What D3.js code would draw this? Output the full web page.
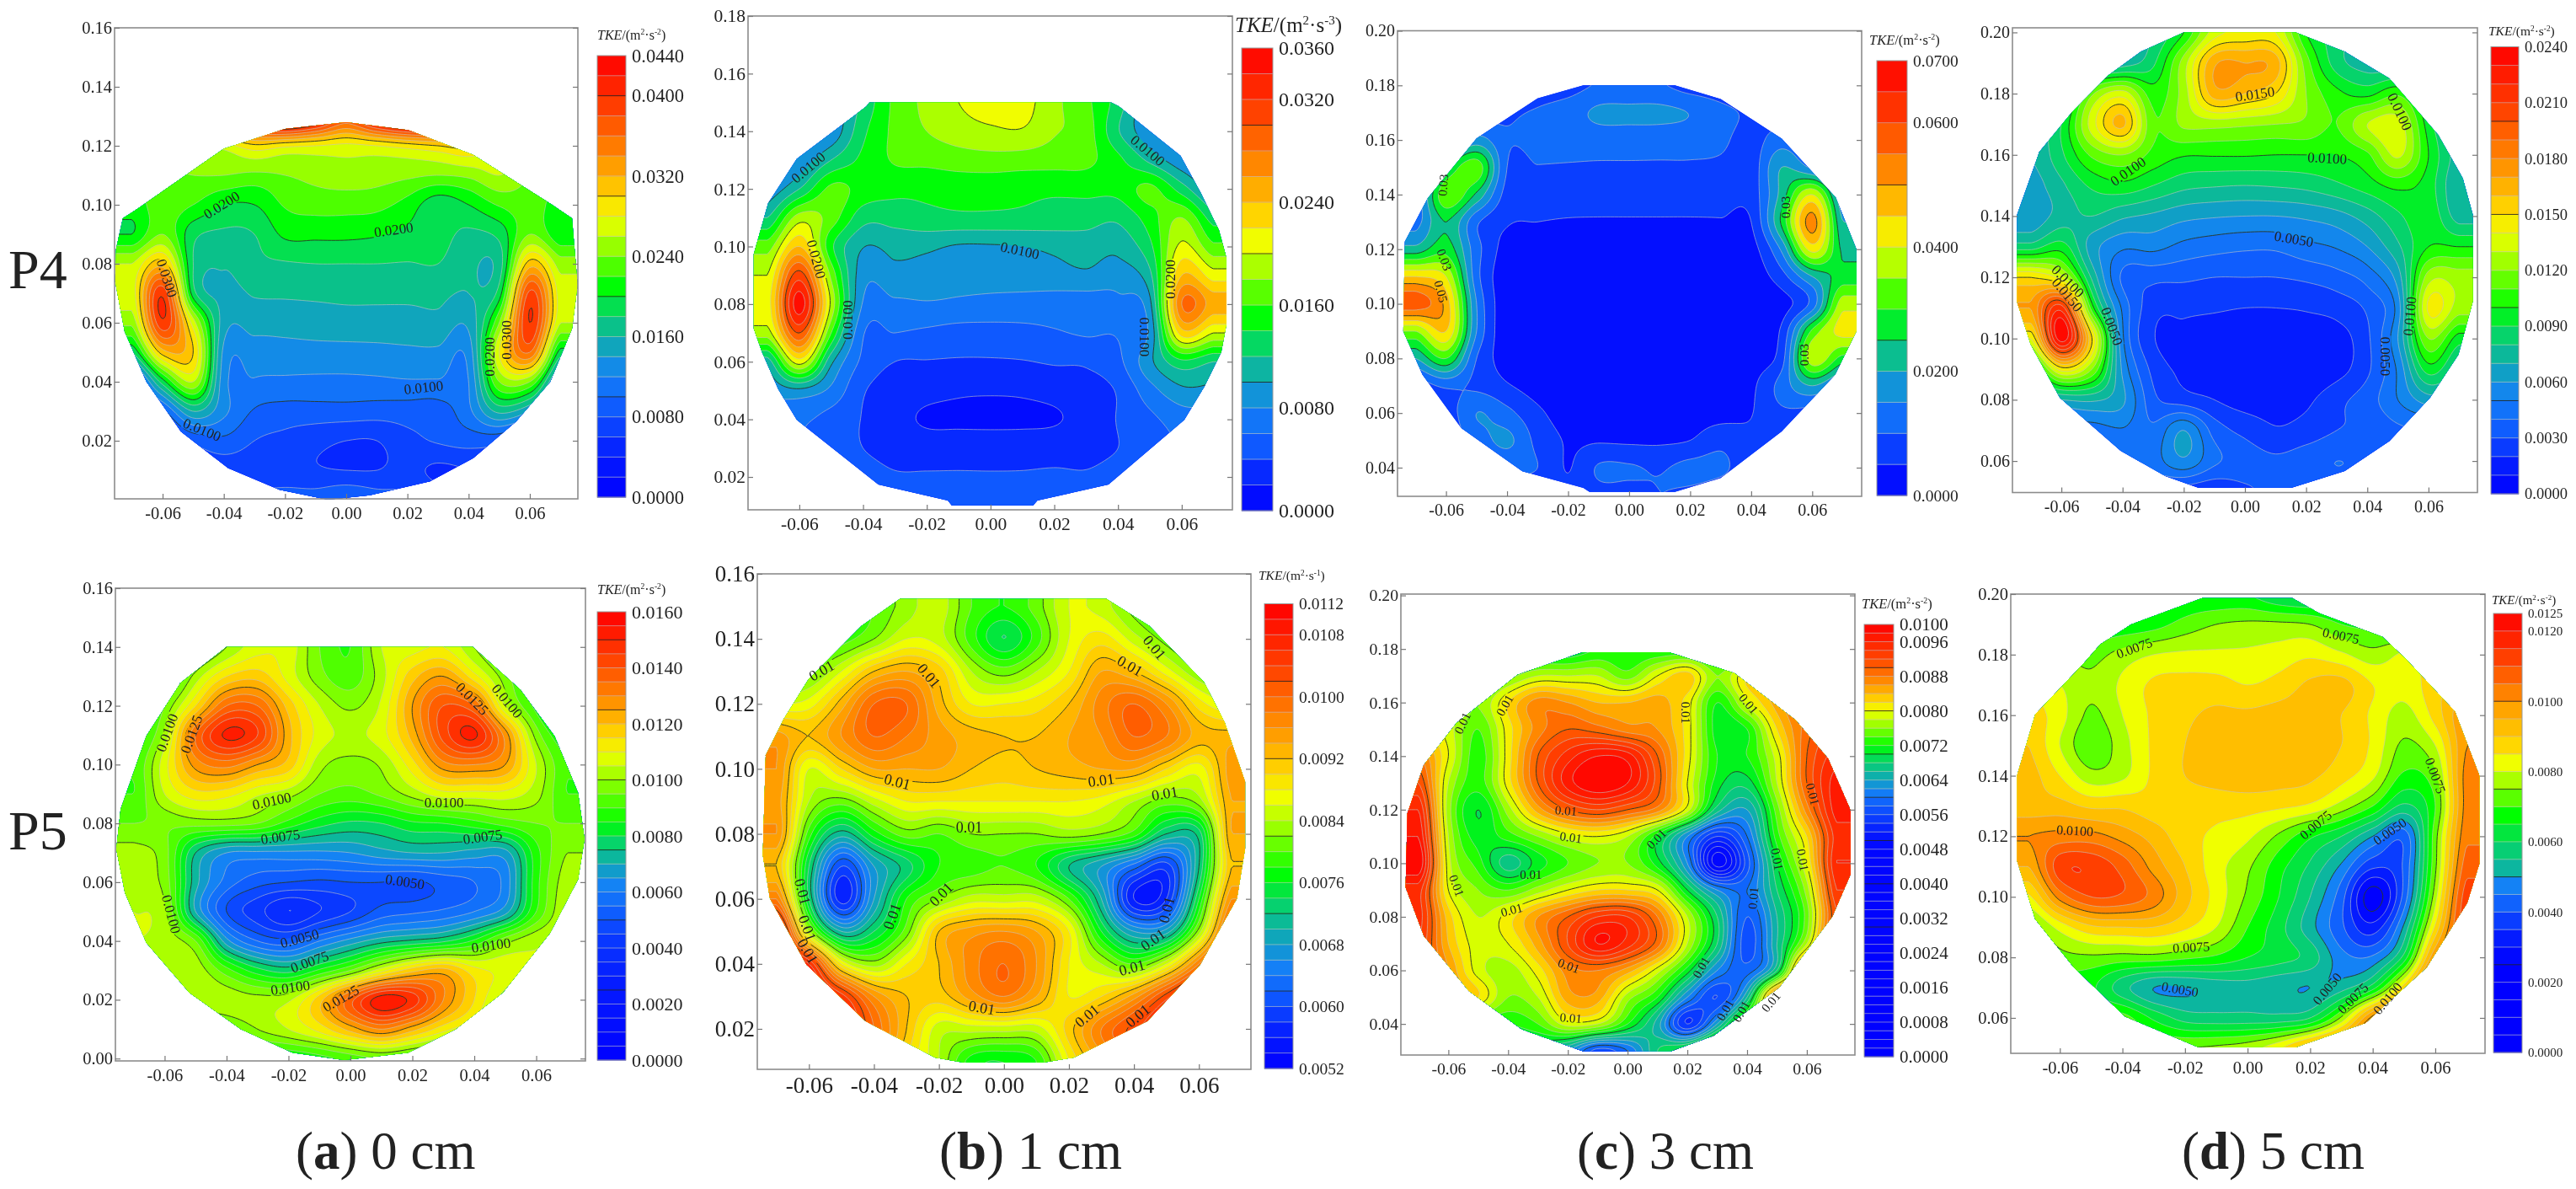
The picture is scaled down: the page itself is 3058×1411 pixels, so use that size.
<!DOCTYPE html>
<html><head><meta charset="utf-8">
<style>html,body{margin:0;background:#fff}svg{display:block;filter:blur(0.6px)}text{font-family:"Liberation Serif",serif;fill:#222}</style>
<script src="https://cdn.jsdelivr.net/npm/d3@7"></script></head><body>
<script>
// TKE values, in units of 1e-4 m2/s2. Columns: x = -0.07 ... 0.07 by 0.01; rows: top y downward by 0.01.
const xColumns=[-.07,-.06,-.05,-.04,-.03,-.02,-.01,0,.01,.02,.03,.04,.05,.06,.07];
const tke_P4_0cm=[ // y .13 -> 0
[300,350,400,420,450,480,440,380,440,480,480,450,400,350,300],
[230,250,260,270,295,285,280,275,280,290,300,310,280,250,230],
[230,235,240,240,235,240,248,252,250,245,240,245,260,240,230],
[210,230,220,200,200,222,228,228,226,212,187,200,222,230,210],
[200,240,186,176,180,204,205,205,202,195,188,176,186,240,205],
[260,310,180,162,175,178,180,180,180,179,180,165,170,310,250],
[270,395,190,155,162,163,164,165,165,165,165,160,190,385,270],
[245,395,270,150,148,148,150,152,152,152,155,145,240,400,260],
[180,310,300,135,130,132,133,133,134,136,136,128,280,360,190],
[80,190,260,128,118,116,115,115,116,118,118,120,240,240,120],
[70,95,160,125,98,92,92,92,90,90,90,115,165,140,80],
[60,60,85,95,80,74,66,60,60,74,82,88,85,60,60],
[60,60,65,68,68,66,62,60,60,66,56,60,65,60,60],
[70,70,75,80,85,90,90,100,90,85,70,65,70,70,70]];
const tke_P4_1cm=[ // y .15 -> .01
[70,80,90,125,165,185,200,210,208,185,165,130,80,70,70],
[70,70,85,135,165,180,190,196,198,182,170,122,85,65,65],
[70,85,120,145,162,165,170,172,170,168,165,145,115,85,70],
[85,120,165,152,146,145,146,146,145,144,146,146,165,130,90],
[120,190,170,128,128,134,136,136,135,132,128,124,150,180,130],
[170,240,145,101,106,104,98,98,100,105,110,106,135,205,165],
[200,310,175,88,94,92,88,88,90,92,96,90,115,240,210],
[210,350,195,78,76,78,76,74,72,70,68,74,95,280,250],
[190,300,160,62,60,56,52,52,54,58,62,62,85,230,200],
[110,210,105,55,40,39,38,38,39,42,43,55,95,135,120],
[85,95,75,42,32,27,23,22,23,27,32,42,72,95,95],
[70,65,52,39,28,17,16,16,16,18,28,41,55,70,70],
[60,60,48,40,34,32,32,31,32,33,35,40,48,60,60],
[55,55,50,47,42,42,42,42,42,43,42,46,50,55,55],
[55,55,55,52,52,52,50,50,50,52,52,52,55,55,55]];
const tke_P4_3cm=[ // y .18 -> .03
[60,60,60,70,75,80,105,108,105,80,70,60,60,60,60],
[60,60,70,92,105,125,160,162,162,148,115,90,70,60,60],
[60,90,170,105,115,118,122,122,120,118,110,80,125,80,60],
[60,240,330,100,98,96,94,94,94,94,90,72,200,140,70],
[110,340,240,80,75,75,75,75,75,75,75,72,220,400,150],
[130,250,110,55,50,46,45,45,45,45,46,50,260,520,200],
[220,280,120,30,25,25,25,25,25,25,25,30,160,420,240],
[450,400,120,20,15,15,15,15,15,15,15,20,80,200,270],
[580,480,150,15,10,10,10,10,10,10,10,15,30,120,380],
[350,450,150,12,8,8,8,8,8,8,8,12,60,310,420],
[200,300,100,30,25,20,20,20,20,20,20,25,80,380,280],
[70,110,90,55,30,25,20,20,20,20,25,40,120,200,120],
[60,70,150,115,60,30,22,22,22,25,30,48,90,80,60],
[60,60,120,160,85,45,45,42,42,50,85,60,60,60,60],
[60,60,70,105,100,48,105,105,95,115,110,70,60,60,60],
[60,60,60,70,70,60,85,85,100,90,70,60,60,60,60]];
const tke_P4_5cm=[ // y .20 -> .05
[70,70,70,72,80,100,135,142,140,100,85,75,70,70,70],
[60,60,70,75,88,125,168,170,165,115,85,75,72,65,60],
[60,75,118,135,105,125,165,160,150,120,103,97,108,85,65],
[70,90,135,162,112,122,124,122,120,118,110,130,135,95,70],
[70,88,112,120,107,101,101,101,100,100,100,108,132,100,75],
[65,78,92,97,90,83,81,80,81,83,88,95,103,95,70],
[62,75,80,72,68,63,61,60,60,62,66,75,88,97,75],
[85,95,65,52,53,47,44,42,42,47,51,60,78,100,100],
[150,135,78,38,33,32,30,30,30,32,36,44,65,125,125],
[170,215,105,48,24,22,21,20,20,21,24,32,55,142,125],
[140,235,150,52,21,18,17,17,16,15,16,28,60,120,95],
[85,145,120,58,27,18,17,16,15,12,16,28,52,95,75],
[65,70,72,62,33,25,20,16,17,18,27,35,50,65,65],
[45,45,45,49,42,60,36,27,21,24,30,32,38,40,40],
[40,40,40,40,45,58,42,36,32,36,40,38,38,38,38],
[35,35,35,35,30,25,22,28,33,35,35,35,35,35,35]];
const tke_P5_0cm=[ // y .14 -> 0
[85,85,90,100,108,108,95,90,105,108,110,100,90,85,85],
[80,85,102,115,118,108,97,92,103,118,125,112,97,85,80],
[75,95,115,135,135,118,105,99,106,125,140,135,105,88,75],
[85,102,135,151,145,122,108,104,108,122,142,151,128,98,85],
[90,108,127,132,125,118,102,98,101,113,128,130,125,105,90],
[90,105,113,112,106,102,95,93,96,102,108,108,108,102,90],
[95,96,97,97,95,88,82,79,80,84,85,88,92,95,95],
[102,97,75,65,64,64,64,65,68,70,70,68,68,88,100],
[102,98,72,58,52,50,49,50,50,49,52,55,62,88,103],
[105,101,70,50,42,35,40,45,52,54,56,60,68,90,105],
[105,103,95,67,55,52,60,67,73,76,79,86,98,104,105],
[100,103,103,92,82,78,86,95,108,118,122,112,108,103,100],
[95,100,103,103,102,104,118,138,153,148,130,115,102,95,95],
[85,90,92,95,100,105,112,122,130,122,112,105,95,88,85],
[85,85,85,85,85,85,88,92,95,92,88,85,85,85,85]];
const tke_P5_1cm=[ // y .15 -> .01
[78,78,78,80,83,85,80,78,81,86,85,81,78,78,78],
[76,78,79,82,86,85,79,74,79,86,89,85,81,78,76],
[80,81,86,92,94,91,84,81,84,88,94,92,87,82,80],
[86,87,93,100,100,93,88,88,89,92,97,100,96,89,86],
[95,92,96,100,98,95,93,92,92,94,96,100,98,93,93],
[96,86,90,94,94,94,92,91,92,93,94,94,90,87,95],
[95,84,81,85,88,88,88,88,88,88,87,84,81,83,94],
[96,79,71,77,81,80,82,82,82,83,82,79,72,73,94],
[92,74,60,68,73,78,79,80,78,72,68,63,59,72,92],
[98,74,57,68,78,82,85,85,85,80,70,56,58,76,96],
[110,84,70,74,81,92,95,96,94,88,76,68,69,83,102],
[110,106,88,83,88,92,97,100,96,88,84,80,86,98,110],
[110,110,105,96,92,91,95,98,94,88,90,95,103,110,110],
[110,110,108,100,92,85,85,85,85,91,98,103,108,110,110],
[110,110,105,98,90,84,77,76,78,88,95,100,105,110,110]];
const tke_P5_3cm=[ // y .18 -> .03
[70,70,70,70,70,70,72,72,72,72,70,70,70,70,70],
[72,72,72,75,78,78,78,75,80,83,76,82,85,80,72],
[78,79,76,82,87,86,84,84,85,81,72,79,85,88,84],
[82,79,74,81,87,90,89,87,86,81,71,72,82,89,92],
[88,80,73,81,90,95,98,97,90,81,72,72,79,90,95],
[92,78,73,81,90,97,100,98,91,80,71,69,78,90,97],
[96,77,70,77,85,90,92,90,87,79,67,64,75,87,97],
[98,78,71,73,76,79,80,78,71,62,54,60,73,82,95],
[100,79,73,67,71,74,76,76,71,62,47,57,70,80,96],
[95,80,76,74,77,80,82,82,80,70,62,60,68,77,94],
[95,83,78,81,86,90,94,94,88,78,68,58,66,75,92],
[94,84,79,80,85,92,98,95,89,78,68,57,66,78,95],
[92,86,79,77,81,87,88,85,79,71,62,59,68,92,98],
[85,85,82,76,78,85,85,77,72,62,56,66,90,95,95],
[72,72,72,72,74,79,78,72,65,54,64,78,85,85,85],
[68,68,68,68,68,64,57,60,68,72,80,85,85,85,85]];
const tke_P5_5cm=[ // y .20 -> .05
[60,60,60,60,62,65,65,65,60,58,60,60,60,60,60],
[65,65,65,66,68,72,75,76,76,75,70,68,66,65,65],
[72,74,73,77,80,81,81,81,82,84,81,77,81,83,80],
[83,80,76,81,86,87,87,85,87,91,92,85,82,88,92],
[88,82,74,80,86,89,91,91,92,92,90,84,78,87,100],
[90,80,71,78,86,90,92,92,92,92,90,84,74,80,100],
[92,85,77,79,86,90,92,93,92,91,87,81,69,74,102],
[92,92,89,89,87,87,87,87,86,84,78,70,59,70,102],
[100,102,102,98,93,87,84,81,74,66,60,50,42,73,104],
[95,113,114,108,98,90,82,76,67,59,49,36,41,74,108],
[84,102,110,109,103,92,83,74,65,55,42,22,42,78,113],
[72,82,89,90,90,86,80,70,62,52,41,32,51,86,115],
[68,73,74,73,73,71,69,65,62,58,47,46,62,100,115],
[68,68,66,57,50,50,52,53,51,50,53,63,88,115,115],
[72,72,72,72,64,58,57,57,57,60,76,102,115,115,115],
[75,75,75,75,75,75,76,78,84,95,105,115,115,115,115]];

// Outline of the measured section, in data coordinates.
const outline_P4_0cm=[[0,.128],[-.02,.1257],[-.04,.119],[-.068,.0988],[-.073,.0954],[-.0752,.085],[-.0755,.074],[-.0724,.057],[-.0653,.04],[-.054,.0231],[-.0386,.0107],[-.0218,.0034],[-.006,0],[.0077,.0015],[.0274,.0062],[.0415,.0141],[.0555,.0265],[.0667,.04],[.0738,.058],[.0756,.0728],[.0738,.0954],[.0674,.0999],[.0415,.1169],[.0204,.1253]];
const outline_P4_1cm=[[-.038,.15],[-.039,.1486],[-.0608,.1304],[-.0698,.115],[-.0743,.0974],[-.0743,.0715],[-.0717,.0633],[-.0666,.0504],[-.0608,.0398],[-.0352,.0174],[-.0134,.0118],[-.0122,.0101],[.0134,.0101],[.0147,.0118],[.037,.0174],[.0608,.0398],[.0672,.0515],[.0724,.0633],[.074,.0727],[.074,.0962],[.0717,.1056],[.066,.1186],[.0596,.1315],[.0403,.1486],[.0378,.15]];
const outline_P4_3cm=[[-.015,.18],[-.03,.1752],[-.05,.1606],[-.066,.1387],[-.0735,.1228],[-.074,.0899],[-.0677,.074],[-.055,.0545],[-.035,.0387],[-.015,.0326],[-.013,.0311],[.015,.0311],[.03,.0362],[.05,.0533],[.0675,.074],[.0745,.09],[.0745,.12],[.0677,.139],[.05,.1605],[.03,.175],[.015,.18]];
const outline_P4_5cm=[[-.02,.2],[-.034,.1937],[-.0446,.186],[-.0565,.174],[-.0672,.161],[-.0745,.1404],[-.0745,.112],[-.07,.098],[-.0605,.0807],[-.0406,.0633],[-.026,.0551],[-.0153,.0513],[.0153,.0513],[.0326,.0567],[.0472,.0665],[.0605,.0807],[.0698,.0948],[.0745,.1122],[.0745,.1404],[.0712,.1524],[.0632,.1665],[.0472,.185],[.0326,.1937],[.0166,.2]];
const outline_P5_0cm=[[-.04,.14],[-.0548,.1278],[-.0659,.1097],[-.0742,.0848],[-.0756,.0712],[-.0728,.0564],[-.0659,.0394],[-.052,.0224],[-.0354,.01],[-.0187,.002],[-.002,-.0005],[.0187,.002],[.034,.01],[.0492,.0224],[.0645,.0428],[.0735,.061],[.0756,.0746],[.0735,.0904],[.0659,.1097],[.0548,.1255],[.0395,.14]];
const outline_P5_1cm=[[-.032,.1523],[-.0438,.144],[-.0601,.1276],[-.0677,.1154],[-.0733,.1041],[-.0742,.0735],[-.072,.0602],[-.0608,.0398],[-.0426,.0224],[-.0212,.0112],[-.0124,.0096],[.012,.0096],[.0215,.0112],[.0441,.0224],[.0604,.0398],[.0717,.0602],[.0742,.0755],[.0742,.096],[.0679,.1143],[.0616,.1266],[.0447,.144],[.0315,.1523]];
const outline_P5_3cm=[[-.015,.1788],[-.0368,.1704],[-.0573,.1523],[-.0682,.1367],[-.0737,.1186],[-.0743,.091],[-.0682,.0729],[-.0532,.0524],[-.0354,.038],[-.0204,.032],[-.0149,.0298],[.0145,.0298],[.0288,.0356],[.0507,.0536],[.0685,.0801],[.0746,.0958],[.0746,.1198],[.0671,.1391],[.0562,.1535],[.0357,.171],[.0138,.1788]];
const outline_P5_5cm=[[-.0145,.1987],[-.0372,.19],[-.0471,.1834],[-.0522,.1773],[-.0679,.1602],[-.0737,.14],[-.0737,.112],[-.0679,.0926],[-.0555,.0766],[-.0392,.0605],[-.0158,.0503],[.0155,.0503],[.0377,.0583],[.0572,.0766],[.0702,.098],[.0741,.1109],[.0741,.14],[.0663,.1612],[.0507,.1784],[.0431,.1859],[.0229,.1937],[.0143,.1987]];

// Contour labels: [x, y, text, angle].
const labels_P4_0cm=[[-.0407,.0999,"0.0200",-32],[.0155,.0915,"0.0200",-8],[-.0586,.0751,"0.0300",72],[.0524,.0542,"0.0300",-90],[.0468,.0485,"0.0200",-90],[.0253,.038,"0.0100",-6],[-.0471,.0237,"0.0100",22]];
const labels_P4_1cm=[[-.0572,.1274,"0.0100",-40],[.0493,.1333,"0.0100",40],[-.0547,.0956,"0.0200",75],[.0092,.0986,"0.0100",12],[.0564,.0886,"0.0200",-90],[-.0448,.0745,"0.0100",-90],[.0483,.0686,"0.0100",90]];
const labels_P4_3cm=[[-.0609,.1435,"0.03",-85],[-.0606,.1161,"0.03",70],[-.0617,.1045,"0.05",75],[.0515,.1354,"0.03",-90],[.0574,.0813,"0.03",-90]];
const labels_P4_5cm=[[.0033,.1798,"0.0150",-8],[.0506,.1741,"0.0100",65],[-.0382,.1546,"0.0100",-35],[.0269,.1589,"0.0100",3],[.016,.1325,"0.0050",10],[-.0579,.1187,"0.0100",45],[-.0581,.1143,"0.0150",50],[-.0435,.104,"0.0050",70],[.0539,.1073,"0.0100",-85],[.0459,.0942,"0.0050",90]];
const labels_P5_0cm=[[-.0592,.1108,"0.0100",-70],[-.0513,.1103,"0.0125",-70],[.0393,.1224,"0.0125",45],[.0506,.1216,"0.0100",50],[-.0254,.0876,"0.0100",-12],[.0302,.087,"0.0100",0],[-.0226,.0754,"0.0075",-8],[.0427,.0754,"0.0075",-8],[.0176,.0601,"0.0050",8],[-.0579,.0491,"0.0100",75],[-.0164,.0408,"0.0050",-15],[-.0132,.0329,"0.0075",-20],[.0454,.0385,"0.0100",-8],[-.0194,.0241,"0.0100",-8],[-.0031,.0204,"0.0125",-30]];
const labels_P5_1cm=[[-.0561,.1302,"0.01",-30],[-.0231,.1286,"0.01",50],[.0463,.1373,"0.01",50],[.0388,.1317,"0.01",30],[-.0328,.096,"0.01",15],[.0299,.0965,"0.01",-8],[.0495,.0924,"0.01",-10],[-.0107,.082,"0.01",0],[-.0193,.0614,"0.01",-45],[-.062,.0622,"0.01",75],[-.0344,.0546,"0.01",-70],[-.0605,.051,"0.01",70],[-.0604,.0439,"0.01",60],[.0501,.0566,"0.01",-75],[.0459,.0474,"0.01",-35],[.0394,.0388,"0.01",-15],[-.0068,.0265,"0.01",10],[.0256,.024,"0.01",-40],[.0412,.024,"0.01",-40]];
const labels_P5_3cm=[[-.0411,.1589,"0.01",-60],[-.0552,.1523,"0.01",-65],[.0405,.1595,"0.01",50],[.0193,.1562,"0.01",90],[.0619,.1258,"0.01",75],[-.0206,.1196,"0.01",5],[-.019,.1096,"0.01",8],[.0097,.109,"0.01",-45],[.05,.1015,"0.01",80],[.0586,.1012,"0.01",80],[-.0324,.0958,"0.01",0],[-.0573,.0916,"0.01",70],[-.0388,.0825,"0.01",-15],[.0421,.087,"0.01",-85],[-.0197,.0617,"0.01",20],[.0247,.0611,"0.01",-60],[-.019,.0422,"0.01",5],[.0327,.0452,"0.01",-60],[.0381,.0446,"0.01",-60],[.048,.0482,"0.01",-50]];
const labels_P5_5cm=[[-.0362,.1821,"0.0075",-20],[.0298,.1862,"0.0075",12],[.06,.14,"0.0075",70],[.0218,.1237,"0.0075",-40],[.0455,.1216,"0.0050",-35],[-.0552,.1218,"0.0100",3],[-.018,.0833,"0.0075",-3],[-.0216,.0694,"0.0050",10],[.0255,.0696,"0.0050",-50],[.0337,.0664,"0.0075",-45],[.0448,.0664,"0.0100",-50]];

const xTicks=[-.06,-.04,-.02,0,.02,.04,.06];
const yTicks_P4_0cm=[.02,.04,.06,.08,.1,.12,.14,.16];
const yTicks_P4_1cm=[.02,.04,.06,.08,.1,.12,.14,.16,.18];
const yTicks_P4_3cm=[.04,.06,.08,.1,.12,.14,.16,.18,.2];
const yTicks_P4_5cm=[.06,.08,.1,.12,.14,.16,.18,.2];
const yTicks_P5_0cm=[0,.02,.04,.06,.08,.1,.12,.14,.16];
const yTicks_P5_1cm=[.02,.04,.06,.08,.1,.12,.14,.16];
const yTicks_P5_3cm=[.04,.06,.08,.1,.12,.14,.16,.18,.2];
const yTicks_P5_5cm=[.06,.08,.1,.12,.14,.16,.18,.2];
const legend_P4_0cm=[.044,.04,.032,.024,.016,.008,0];
const legend_P4_1cm=[.036,.032,.024,.016,.008,0];
const legend_P4_3cm=[.07,.06,.04,.02,0];
const legend_P4_5cm=[.024,.021,.018,.015,.012,.009,.006,.003,0];
const legend_P5_0cm=[.016,.014,.012,.01,.008,.006,.004,.002,0];
const legend_P5_1cm=[.0112,.0108,.01,.0092,.0084,.0076,.0068,.006,.0052];
const legend_P5_3cm=[.01,.0096,.0088,.008,.0072,.0064,.0056,.0048,.004,.0032,.0024,.0016,.0008,0];
const legend_P5_5cm=[.0125,.012,.01,.008,.006,.004,.002,0];

// Rainbow used by the colour bars.
const rainbowStops=[0,.1,.2,.28,.35,.42,.48,.53,.58,.63,.68,.74,.8,.87,.94,1];
const rainbowColors=["#0000ff","#051eff","#0f5aff","#1482f5","#0faab4","#05d764","#00ff00","#5aff00","#aaff00","#f0ff00","#ffd700","#ffa500","#ff7800","#ff4600","#ff1e00","#ff0000"];
const rainbow=d3.scaleLinear().domain(rainbowStops).range(rainbowColors);

const panels=[
{z:tke_P4_0cm,yTop:.13,out:outline_P4_0cm,lab:labels_P4_0cm,yT:yTicks_P4_0cm,leg:legend_P4_0cm,min:0,max:440,step:20,black:[100,200,300,400],box:[136,686,33,592],xd:[-.0757,.0757],yd:[.0003,.1600],bar:[709,743,66,590],fs:20.5,lf:22.5,cf:17,title:[709,47,16,"-2"],warp:[[0,1],[0,1]]},
{z:tke_P4_1cm,yTop:.15,out:outline_P4_1cm,lab:labels_P4_1cm,yT:yTicks_P4_1cm,leg:legend_P4_1cm,min:0,max:360,step:20,black:[100,200,300],box:[888,1463,19,605],xd:[-.0761,.0759],yd:[.0086,.18],bar:[1474,1511,57,606],fs:21.5,lf:24,cf:17,title:[1466,38,25,"-3"],warp:[[0,.14,.42,.58,1],[0,.2,.48,.63,1]]},
{z:tke_P4_3cm,yTop:.18,out:outline_P4_3cm,lab:labels_P4_3cm,yT:yTicks_P4_3cm,leg:legend_P4_3cm,min:0,max:700,step:50,black:[250,500],box:[1659,2210,36.5,589],xd:[-.0759,.0762],yd:[.0295,.20],bar:[2228,2264,72,588],fs:20,lf:19.5,cf:15,title:[2219,53,16.5,"-2"],warp:[[0,.14,.42,.58,1],[0,.2,.48,.63,1]]},
{z:tke_P4_5cm,yTop:.20,out:outline_P4_5cm,lab:labels_P4_5cm,yT:yTicks_P4_5cm,leg:legend_P4_5cm,min:0,max:240,step:10,black:[50,100,150,200],box:[2389,2941,33,584.5],xd:[-.076,.076],yd:[.0497,.2015],bar:[2957,2990,55.5,586],fs:20,lf:18.5,cf:17,title:[2954,42,15.5,"-2"],warp:[[0,.14,.42,.58,1],[0,.2,.48,.63,1]]},
{z:tke_P5_0cm,yTop:.14,out:outline_P5_0cm,lab:labels_P5_0cm,yT:yTicks_P5_0cm,leg:legend_P5_0cm,min:0,max:160,step:5,black:[50,75,100,125,150],barBlack:[25,50,75,100,125,150],box:[137,695,698,1259],xd:[-.0759,.0759],yd:[-.0008,.16],bar:[709,743,726,1258],fs:20.5,lf:22,cf:17,title:[709,705,16,"-2"],warp:[[0,.28,.39,.53,.64,1],[0,.15,.28,.48,.58,1]]},
{z:tke_P5_1cm,yTop:.15,out:outline_P5_1cm,lab:labels_P5_1cm,yT:yTicks_P5_1cm,leg:legend_P5_1cm,min:52,max:112,step:2,black:[62,72,82,92,102],box:[899,1485,681,1269],xd:[-.0759,.076],yd:[.00755,.16],bar:[1501,1535,716.5,1268],fs:27,lf:19.5,cf:18,title:[1494,688,15.5,"-1"],warp:[[0,.22,.42,.615,1],[0,.28,.48,.66,1]]},
{z:tke_P5_3cm,yTop:.18,out:outline_P5_3cm,lab:labels_P5_3cm,yT:yTicks_P5_3cm,leg:legend_P5_3cm,min:0,max:100,step:2,black:[60,70,80,90],barBlack:[30,40,50,60,70,80,90],box:[1663,2202,705,1252],xd:[-.0759,.0761],yd:[.0284,.2005],bar:[2213,2248,741,1254],fs:19.7,lf:21,cf:15,title:[2210,722,16.5,"-2"],warp:[[0,.48,.58,.615,.645,.72,.81,.88,1],[0,.02,.2,.28,.35,.48,.65,.8,1]]},
{z:tke_P5_5cm,yTop:.20,out:outline_P5_5cm,lab:labels_P5_5cm,yT:yTicks_P5_5cm,leg:legend_P5_5cm,min:0,max:125,step:5,black:[25,50,75,100],box:[2387,2950,705,1250],xd:[-.0757,.0759],yd:[.0483,.2],bar:[2960,2994,728,1249],fs:20.5,lf:15,cf:16,title:[2958,717,15,"-2"],warp:[[0,.2,.28,.38,.4,.54,.58,.62,.66,.7,.78,1],[0,0,.12,.28,.35,.48,.53,.58,.63,.68,.74,1]]}
];
const sideLabels=[["P4",10,342],["P5",10,1008]];
const captions=[["a"," 0 cm",351],["b"," 1 cm",1115],["c"," 3 cm",1872],["d"," 5 cm",2590]];

const svg=d3.select("body").append("svg").attr("width",3058).attr("height",1411);
const boxColor="#8c8c8c";

function sampler(z,yTop){
  const nr=z.length,nc=z[0].length;
  const at=(r,c)=>z[Math.max(0,Math.min(nr-1,r))][Math.max(0,Math.min(nc-1,c))];
  const cr=(a,b,c,d,t)=>.5*(2*b+(c-a)*t+(2*a-5*b+4*c-d)*t*t+(3*b-a-3*c+d)*t*t*t);
  return (x,y)=>{
    const u=Math.max(0,Math.min(nc-1,(x+.07)/.01)),v=Math.max(0,Math.min(nr-1,(yTop-y)/.01));
    const c=Math.floor(u),r=Math.floor(v),tu=u-c,tv=v-r;
    const row=k=>cr(at(k,c-1),at(k,c),at(k,c+1),at(k,c+2),tu);
    return cr(row(r-1),row(r),row(r+1),row(r+2),tv);
  };
}

panels.forEach((p,i)=>{
  const [L,R,T,B]=p.box;
  const x=d3.scaleLinear().domain(p.xd).range([L,R]);
  const y=d3.scaleLinear().domain(p.yd).range([B,T]);
  const g=svg.append("g");
  const nLev=Math.round((p.max-p.min)/p.step);
  const warp=d3.scaleLinear().domain(p.warp[0]).range(p.warp[1]);
  const col=k=>rainbow(warp((k+.5)/nLev));
  // clip
  const clipLine=d3.line().x(d=>x(d[0])).y(d=>y(d[1])).curve(d3.curveLinearClosed);
  g.append("clipPath").attr("id","clip"+i).append("path").attr("d",clipLine(p.out));
  // field
  const st=2.5,nx=Math.ceil((R-L)/st)+1,ny=Math.ceil((B-T)/st)+1;
  const f=sampler(p.z,p.yTop),vals=new Float64Array(nx*ny);
  for(let r=0;r<ny;r++)for(let c=0;c<nx;c++)vals[r*nx+c]=f(x.invert(L+c*st),y.invert(T+r*st));
  const ths=d3.range(1,nLev).map(k=>p.min+k*p.step);
  const cs=d3.contours().size([nx,ny]).thresholds(ths)(vals);
  const path=d3.geoPath(d3.geoTransform({point(a,b){this.stream.point(L+(a-.5)*st,T+(b-.5)*st);}}));
  const field=g.append("g").attr("clip-path",`url(#clip${i})`);
  field.append("rect").attr("x",L).attr("y",T).attr("width",R-L).attr("height",B-T).attr("fill",col(0));
  field.selectAll("path.f").data(cs).join("path").attr("class","f").attr("d",path).attr("fill",(d,k)=>col(k+1));
  field.selectAll("path.l").data(cs.filter(d=>!p.black.includes(d.value))).join("path").attr("class","l").attr("d",path)
    .attr("fill","none").attr("stroke","#c4c4c4").attr("stroke-opacity",.6).attr("stroke-width",1);
  // mask for gaps in black lines
  const fs=p.cf,mask=g.append("mask").attr("id","m"+i).attr("maskUnits","userSpaceOnUse").attr("x",L).attr("y",T).attr("width",R-L).attr("height",B-T);
  mask.append("rect").attr("x",L).attr("y",T).attr("width",R-L).attr("height",B-T).attr("fill","#fff");
  mask.selectAll("rect.h").data(p.lab).join("rect").attr("class","h").attr("fill","#000")
    .attr("x",d=>-d[2].length*fs*.24).attr("y",-fs*.4).attr("width",d=>d[2].length*fs*.48).attr("height",fs*.8)
    .attr("transform",d=>`translate(${x(d[0])},${y(d[1])}) rotate(${d[3]})`);
  field.append("g").attr("mask",`url(#m${i})`).selectAll("path").data(cs.filter(d=>p.black.includes(d.value))).join("path").attr("d",path)
    .attr("fill","none").attr("stroke","#2a3a2a").attr("stroke-width",.95);
  // contour labels
  g.selectAll("text.c").data(p.lab).join("text").attr("class","c").attr("font-size",fs).attr("text-anchor","middle").attr("dy",".33em")
    .attr("transform",d=>`translate(${x(d[0])},${y(d[1])}) rotate(${d[3]})`).text(d=>d[2]);
  // box + axes
  g.append("rect").attr("x",L).attr("y",T).attr("width",R-L).attr("height",B-T).attr("fill","none").attr("stroke",boxColor).attr("stroke-width",1.6);
  const styleAxis=s=>{s.select(".domain").remove();s.selectAll("line").attr("stroke","#777").attr("stroke-width",1.2);s.selectAll("text").attr("font-size",p.fs).attr("fill","#222").style("font-family",'"Liberation Serif",serif');};
  g.append("g").attr("transform",`translate(${L},0)`).call(d3.axisLeft(y).tickValues(p.yT).tickSize(-6).tickPadding(3).tickFormat(d3.format(".2f"))).call(styleAxis);
  g.append("g").attr("transform",`translate(${R},0)`).call(d3.axisRight(y).tickValues(p.yT).tickSize(-6).tickFormat("")).call(styleAxis);
  g.append("g").attr("transform",`translate(0,${B})`).call(d3.axisBottom(x).tickValues(xTicks).tickSize(-6).tickPadding(9).tickFormat(d=>d3.format(".2f")(d).replace("−","-"))).call(styleAxis);
  // colour bar
  const [bL,bR,bT,bB]=p.bar;
  const bb=p.barBlack||p.black;
  const v=d3.scaleLinear().domain([p.min,p.max]).range([bB,bT]);
  const bg=g.append("g");
  bg.selectAll("rect").data(d3.range(nLev)).join("rect").attr("x",bL).attr("width",bR-bL)
    .attr("y",k=>v(p.min+(k+1)*p.step)).attr("height",k=>v(p.min+k*p.step)-v(p.min+(k+1)*p.step)+.5).attr("fill",col);
  bg.selectAll("line").data(d3.range(1,nLev)).join("line").attr("x1",bL).attr("x2",bR)
    .attr("y1",k=>v(p.min+k*p.step)).attr("y2",k=>v(p.min+k*p.step))
    .attr("stroke",k=>bb.includes(p.min+k*p.step)?"#222":"#c4c4c4").attr("stroke-opacity",k=>bb.includes(p.min+k*p.step)?.85:.6).attr("stroke-width",1);
  bg.append("rect").attr("x",bL).attr("y",bT).attr("width",bR-bL).attr("height",bB-bT).attr("fill","none").attr("stroke","#999").attr("stroke-width",1);
  const lv=d3.scaleLinear().domain([p.min/1e4,p.max/1e4]).range([bB,bT]);
  g.append("g").attr("transform",`translate(${bR},0)`).call(d3.axisRight(lv).tickValues(p.leg).tickSize(0).tickPadding(7).tickFormat(d3.format(".4f")))
    .call(s=>{s.select(".domain").remove();s.selectAll("text").attr("font-size",p.lf).attr("fill","#222").style("font-family",'"Liberation Serif",serif');});
  // title
  const [tx,ty,tf,sup]=p.title;
  const t=g.append("text").attr("x",tx).attr("y",ty).attr("font-size",tf);
  t.append("tspan").attr("font-style","italic").text("TKE");
  t.append("tspan").text("/(m");
  t.append("tspan").attr("font-size",tf*.6).attr("dy",-tf*.35).text("2");
  t.append("tspan").attr("dy",tf*.35).text("·s");
  t.append("tspan").attr("font-size",tf*.6).attr("dy",-tf*.35).text(sup);
  t.append("tspan").attr("dy",tf*.35).text(")");
});

svg.selectAll("text.side").data(sideLabels).join("text").attr("class","side").attr("x",d=>d[1]).attr("y",d=>d[2]).attr("font-size",66).text(d=>d[0]);
captions.forEach(c=>{
  const t=svg.append("text").attr("x",c[2]).attr("y",1387).attr("font-size",63).attr("xml:space","preserve");
  t.append("tspan").text("(");
  t.append("tspan").attr("font-weight","bold").text(c[0]);
  t.append("tspan").text(")"+c[1]);
});
</script></body></html>
